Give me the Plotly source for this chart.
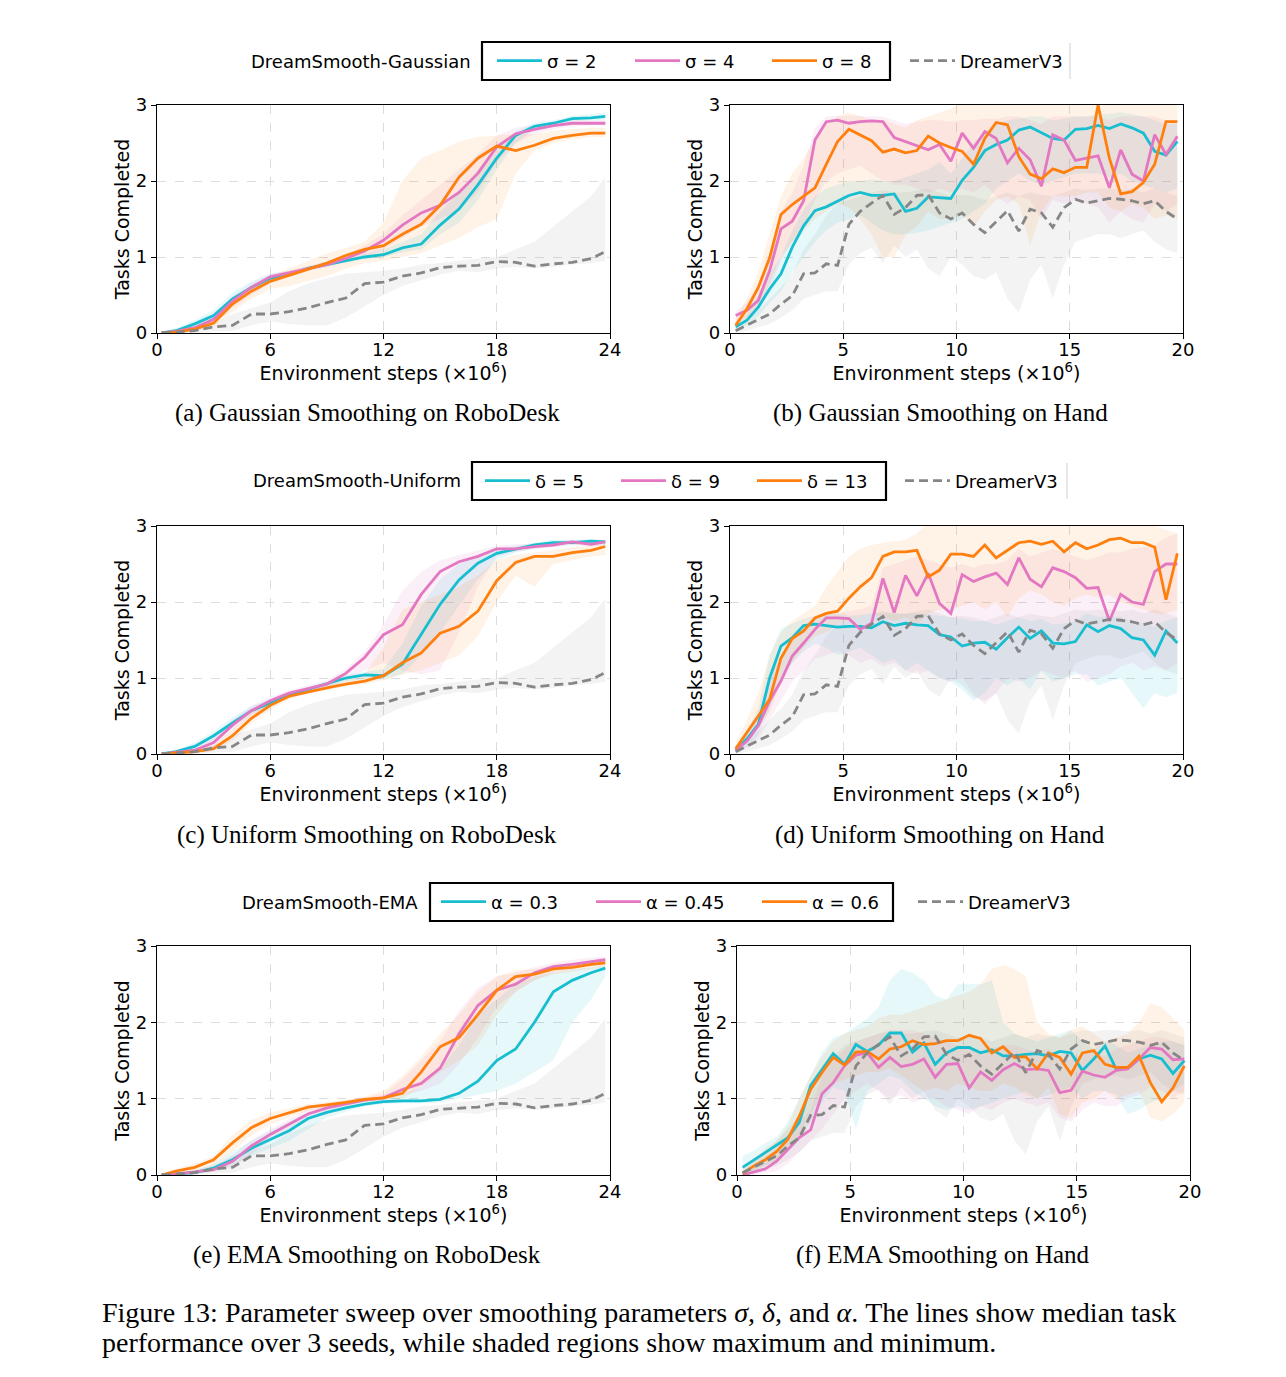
import plotly.graph_objects as go

W, H = 1286, 1377


def px(x):
    return x / W


def py(y):
    return 1 - y / H


# ---------------- data ----------------
rd_x = [0.25, 1, 2, 3, 4, 5, 6, 7, 8, 9, 10, 11, 12, 13, 14, 15, 16, 17, 18, 19, 20, 21, 22, 23, 23.75]
hd_x = [0.25, 0.75, 1.25, 1.75, 2.25, 2.75, 3.25, 3.75, 4.25, 4.75,
        5.25, 5.75, 6.25, 6.75, 7.25, 7.75, 8.25, 8.75, 9.25, 9.75,
        10.25, 10.75, 11.25, 11.75, 12.25, 12.75, 13.25, 13.75, 14.25, 14.75,
        15.25, 15.75, 16.25, 16.75, 17.25, 17.75, 18.25, 18.75, 19.25, 19.75]

# DreamerV3 baseline
dv3_rd_med = [0, 0.01, 0.03, 0.08, 0.1, 0.25, 0.25, 0.28, 0.33, 0.4, 0.46, 0.65, 0.67, 0.75, 0.79, 0.86, 0.88, 0.89, 0.94, 0.93, 0.88, 0.91, 0.93, 0.98, 1.07]
dv3_rd_lo = [0, 0, 0, 0.02, 0.03, 0.1, 0.15, 0.12, 0.1, 0.1, 0.2, 0.35, 0.5, 0.62, 0.7, 0.77, 0.82, 0.8, 0.85, 0.87, 0.85, 0.87, 0.9, 0.92, 0.95]
dv3_rd_hi = [0.01, 0.02, 0.05, 0.12, 0.25, 0.32, 0.4, 0.55, 0.65, 0.72, 0.78, 0.8, 0.82, 0.85, 0.9, 0.92, 0.95, 0.98, 1.0, 1.1, 1.2, 1.4, 1.6, 1.8, 2.05]

dv3_hd_med = [0.03, 0.1, 0.17, 0.25, 0.38, 0.49, 0.78, 0.79, 0.91, 0.89, 1.43, 1.6, 1.71, 1.81, 1.56, 1.65, 1.81, 1.82, 1.58, 1.5,
              1.58, 1.43, 1.32, 1.47, 1.61, 1.34, 1.63, 1.58, 1.39, 1.65, 1.76, 1.71, 1.74, 1.77, 1.76, 1.74, 1.7, 1.74, 1.6, 1.5]
dv3_hd_lo = [0.0, 0.03, 0.07, 0.12, 0.2, 0.3, 0.45, 0.5, 0.55, 0.55, 0.9, 1.05, 1.12, 0.92, 1.15, 1.0, 1.1, 0.85, 0.75, 1.0,
             0.9, 0.75, 0.7, 0.8, 0.45, 0.27, 0.7, 0.9, 0.45, 0.9, 1.2, 1.25, 1.3, 1.3, 1.25, 1.3, 1.35, 1.2, 1.1, 1.05]
dv3_hd_hi = [0.06, 0.18, 0.3, 0.45, 0.6, 0.78, 1.1, 1.3, 1.55, 1.7, 1.75, 1.8, 1.85, 1.88, 1.85, 1.85, 1.88, 1.9, 1.85, 1.8,
             1.82, 1.8, 1.75, 1.8, 1.85, 1.8, 1.85, 1.82, 1.8, 1.85, 1.9, 1.88, 1.9, 1.9, 1.88, 1.9, 1.85, 1.9, 1.85, 1.8]

# (a) Gaussian / RoboDesk
a_s2_med = [0, 0.03, 0.12, 0.23, 0.45, 0.6, 0.72, 0.77, 0.85, 0.9, 0.95, 1.0, 1.03, 1.12, 1.17, 1.42, 1.63, 1.95, 2.3, 2.6, 2.72, 2.76, 2.82, 2.83, 2.85]
a_s2_lo = [0, 0.01, 0.07, 0.17, 0.38, 0.55, 0.68, 0.74, 0.82, 0.88, 0.93, 0.97, 1.0, 1.06, 1.1, 1.3, 1.45, 1.75, 2.15, 2.5, 2.68, 2.72, 2.78, 2.8, 2.8]
a_s2_hi = [0.02, 0.06, 0.17, 0.3, 0.53, 0.68, 0.78, 0.82, 0.88, 0.93, 0.99, 1.04, 1.1, 1.2, 1.3, 1.6, 1.85, 2.15, 2.45, 2.65, 2.77, 2.8, 2.86, 2.88, 2.9]
a_s4_med = [0, 0.02, 0.07, 0.18, 0.42, 0.6, 0.74, 0.79, 0.85, 0.9, 0.98, 1.08, 1.22, 1.42, 1.58, 1.68, 1.85, 2.1, 2.45, 2.62, 2.68, 2.73, 2.76, 2.76, 2.76]
a_s4_lo = [0, 0.0, 0.04, 0.12, 0.33, 0.5, 0.66, 0.75, 0.82, 0.87, 0.93, 1.0, 1.1, 1.25, 1.4, 1.5, 1.62, 1.85, 2.25, 2.5, 2.62, 2.68, 2.72, 2.73, 2.73]
a_s4_hi = [0.01, 0.04, 0.1, 0.24, 0.48, 0.66, 0.78, 0.82, 0.88, 0.94, 1.03, 1.15, 1.3, 1.55, 1.75, 1.95, 2.15, 2.35, 2.6, 2.7, 2.74, 2.78, 2.8, 2.8, 2.8]
a_s8_med = [0, 0.01, 0.05, 0.13, 0.38, 0.55, 0.68, 0.76, 0.85, 0.92, 1.02, 1.1, 1.15, 1.3, 1.43, 1.68, 2.05, 2.3, 2.46, 2.4, 2.47, 2.56, 2.6, 2.63, 2.63]
a_s8_lo = [0, 0.0, 0.02, 0.08, 0.28, 0.45, 0.58, 0.62, 0.68, 0.75, 0.85, 0.92, 0.95, 1.0, 1.05, 1.15, 1.25, 1.39, 1.5, 2.1, 2.4, 2.5, 2.55, 2.58, 2.58]
a_s8_hi = [0.01, 0.03, 0.08, 0.2, 0.45, 0.62, 0.75, 0.85, 0.95, 1.05, 1.12, 1.2, 1.45, 2.0, 2.3, 2.4, 2.52, 2.58, 2.6, 2.62, 2.62, 2.66, 2.68, 2.7, 2.7]

# (b) Gaussian / Hand
b_s2_med = [0.08, 0.17, 0.34, 0.58, 0.78, 1.13, 1.41, 1.61, 1.66, 1.74, 1.81, 1.85, 1.81, 1.81, 1.83, 1.6, 1.64, 1.79, 1.78, 1.77,
            2.01, 2.18, 2.4, 2.48, 2.54, 2.67, 2.71, 2.64, 2.56, 2.54, 2.68, 2.69, 2.73, 2.69, 2.75, 2.7, 2.63, 2.39, 2.34, 2.52]
b_s2_lo = [0.03, 0.1, 0.22, 0.4, 0.55, 0.8, 1.0, 1.2, 1.35, 1.45, 1.5, 1.55, 1.45, 1.35, 1.3, 1.3, 1.32, 1.35, 1.4, 1.45,
           1.5, 1.6, 1.7, 1.9, 2.0, 2.1, 2.0, 1.95, 2.0, 2.05, 2.1, 2.1, 2.1, 2.05, 2.1, 2.0, 1.95, 1.9, 1.85, 1.9]
b_s2_hi = [0.12, 0.25, 0.5, 0.8, 1.0, 1.35, 1.62, 1.8, 1.9, 1.95, 2.0, 2.0, 2.02, 2.0, 2.0, 2.05, 2.1, 2.15, 2.25, 2.1,
           2.3, 2.5, 2.65, 2.75, 2.8, 2.82, 2.85, 2.85, 2.8, 2.82, 2.85, 2.85, 2.88, 2.88, 2.9, 2.88, 2.85, 2.8, 2.75, 2.75]
b_s4_med = [0.23, 0.3, 0.43, 0.82, 1.37, 1.47, 1.74, 2.54, 2.78, 2.8, 2.76, 2.78, 2.79, 2.78, 2.57, 2.52, 2.46, 2.41, 2.48, 2.26,
            2.63, 2.43, 2.65, 2.56, 2.24, 2.43, 2.28, 1.93, 2.61, 2.54, 2.27, 2.3, 2.33, 1.91, 2.41, 2.09, 2.0, 2.61, 2.35, 2.59]
b_s4_lo = [0.15, 0.2, 0.3, 0.55, 0.95, 1.2, 1.4, 1.75, 2.0, 2.1, 2.15, 2.2, 2.1, 2.0, 1.95, 1.95, 1.9, 1.85, 1.9, 1.85,
           1.9, 1.85, 1.95, 1.8, 1.7, 1.8, 1.75, 1.5, 1.75, 1.7, 1.75, 1.7, 1.65, 1.45, 1.6, 1.5, 1.45, 1.7, 1.6, 1.7]
b_s4_hi = [0.28, 0.4, 0.6, 1.05, 1.6, 1.85, 2.2, 2.7, 2.85, 2.86, 2.86, 2.86, 2.85, 2.85, 2.8, 2.75, 2.78, 2.8, 2.8, 2.78,
           2.8, 2.8, 2.82, 2.82, 2.85, 2.85, 2.8, 2.75, 2.85, 2.85, 2.85, 2.85, 2.85, 2.8, 2.85, 2.85, 2.85, 2.85, 2.8, 2.8]
b_s8_med = [0.1, 0.32, 0.6, 0.99, 1.56, 1.69, 1.8, 1.91, 2.22, 2.52, 2.68, 2.6, 2.53, 2.38, 2.42, 2.37, 2.4, 2.59, 2.5, 2.44,
            2.39, 2.22, 2.56, 2.77, 2.74, 2.32, 2.09, 2.03, 2.16, 2.11, 2.18, 2.18, 3.0, 2.3, 1.83, 1.86, 1.98, 2.22, 2.78, 2.78]
b_s8_lo = [0.05, 0.15, 0.35, 0.65, 1.0, 1.2, 1.35, 1.5, 1.6, 1.7, 1.65, 1.5, 1.3, 1.0, 1.0, 1.3, 1.4, 1.6, 1.5, 1.5,
           1.55, 1.4, 1.6, 1.75, 1.8, 1.7, 1.15, 1.6, 1.8, 1.8, 1.8, 1.85, 1.85, 1.65, 1.6, 1.7, 1.65, 1.5, 1.55, 1.5]
b_s8_hi = [0.2, 0.45, 0.8, 1.3, 1.8, 2.1, 2.3, 2.55, 2.75, 2.85, 2.9, 2.85, 2.8, 2.8, 2.75, 2.7, 2.8, 2.85, 2.9, 2.95,
           3.05, 3.1, 3.1, 3.1, 3.1, 3.1, 3.1, 3.1, 3.1, 3.1, 3.1, 3.1, 3.1, 3.1, 3.1, 3.1, 3.05, 3.0, 3.0, 3.0]

# (c) Uniform / RoboDesk
c_d5_med = [0, 0.03, 0.1, 0.24, 0.41, 0.57, 0.67, 0.78, 0.85, 0.92, 1.0, 1.04, 1.03, 1.18, 1.57, 1.97, 2.29, 2.51, 2.64, 2.7, 2.75, 2.78, 2.78, 2.8, 2.79]
c_d5_lo = [0, 0.01, 0.07, 0.18, 0.35, 0.52, 0.63, 0.74, 0.82, 0.88, 0.95, 0.98, 0.98, 1.05, 1.3, 1.6, 1.95, 2.3, 2.55, 2.65, 2.7, 2.74, 2.75, 2.76, 2.75]
c_d5_hi = [0.02, 0.05, 0.15, 0.3, 0.48, 0.63, 0.72, 0.81, 0.88, 0.95, 1.04, 1.08, 1.12, 1.45, 1.95, 2.3, 2.5, 2.62, 2.7, 2.74, 2.78, 2.82, 2.82, 2.83, 2.82]
c_d9_med = [0, 0.02, 0.05, 0.15, 0.38, 0.57, 0.7, 0.8, 0.86, 0.92, 1.06, 1.27, 1.57, 1.7, 2.1, 2.4, 2.53, 2.6, 2.7, 2.7, 2.73, 2.75, 2.79, 2.76, 2.79]
c_d9_lo = [0, 0, 0.03, 0.1, 0.3, 0.5, 0.65, 0.76, 0.83, 0.88, 0.97, 1.1, 1.2, 1.1, 1.05, 1.1, 1.6, 2.2, 2.6, 2.66, 2.7, 2.72, 2.75, 2.73, 2.75]
c_d9_hi = [0.01, 0.04, 0.08, 0.22, 0.45, 0.63, 0.75, 0.84, 0.9, 0.97, 1.12, 1.35, 1.7, 2.15, 2.4, 2.55, 2.62, 2.68, 2.74, 2.76, 2.77, 2.79, 2.82, 2.8, 2.82]
c_d13_med = [0, 0.01, 0.03, 0.07, 0.24, 0.47, 0.64, 0.76, 0.82, 0.87, 0.92, 0.96, 1.03, 1.2, 1.33, 1.59, 1.68, 1.88, 2.28, 2.52, 2.6, 2.6, 2.65, 2.68, 2.73]
c_d13_lo = [0, 0, 0.01, 0.04, 0.17, 0.4, 0.58, 0.72, 0.8, 0.84, 0.89, 0.92, 0.97, 1.05, 1.1, 1.2, 1.3, 1.55, 2.0, 2.35, 2.2, 2.5, 2.55, 2.6, 2.62]
c_d13_hi = [0.01, 0.02, 0.06, 0.12, 0.32, 0.55, 0.7, 0.8, 0.86, 0.9, 0.97, 1.05, 1.4, 1.9, 2.0, 2.1, 2.2, 2.35, 2.55, 2.62, 2.65, 2.68, 2.72, 2.74, 2.76]

# (d) Uniform / Hand
d_d5_med = [0.05, 0.2, 0.39, 1.0, 1.42, 1.53, 1.69, 1.71, 1.69, 1.67, 1.68, 1.68, 1.66, 1.74, 1.69, 1.72, 1.7, 1.69, 1.57, 1.54,
            1.42, 1.46, 1.47, 1.38, 1.53, 1.67, 1.52, 1.62, 1.46, 1.45, 1.48, 1.7, 1.61, 1.69, 1.65, 1.53, 1.5, 1.3, 1.62, 1.46]
d_d5_lo = [0.02, 0.1, 0.25, 0.6, 1.0, 1.2, 1.35, 1.45, 1.4, 1.3, 1.35, 1.4, 1.3, 1.2, 1.25, 1.1, 1.2, 1.1, 1.0, 0.95,
           0.85, 0.7, 0.8, 1.0, 0.9, 1.0, 0.85, 1.1, 0.95, 1.0, 1.05, 1.05, 0.9, 0.95, 1.0, 0.8, 0.6, 0.8, 0.75, 0.8]
d_d5_hi = [0.1, 0.3, 0.6, 1.3, 1.65, 1.72, 1.78, 1.82, 1.85, 1.85, 1.82, 1.83, 1.85, 1.85, 1.85, 1.85, 1.85, 1.84, 1.82, 1.8,
           1.78, 1.75, 1.75, 1.7, 1.75, 1.8, 1.75, 1.78, 1.7, 1.72, 1.75, 1.85, 1.8, 1.82, 1.8, 1.75, 1.72, 1.68, 1.75, 1.8]
d_d9_med = [0.05, 0.17, 0.37, 0.7, 0.96, 1.29, 1.46, 1.64, 1.79, 1.79, 1.78, 1.64, 1.72, 2.31, 1.86, 2.35, 2.08, 2.38, 1.98, 1.85,
            2.36, 2.27, 2.33, 2.38, 2.23, 2.58, 2.3, 2.2, 2.45, 2.4, 2.32, 2.18, 2.19, 1.75, 2.1, 2.0, 1.97, 2.4, 2.5, 2.5]
d_d9_lo = [0.02, 0.08, 0.2, 0.45, 0.7, 0.95, 1.1, 1.25, 1.3, 1.35, 1.3, 1.2, 1.25, 1.15, 1.2, 1.1, 1.05, 1.1, 1.0, 0.95,
           1.0, 0.8, 0.65, 0.8, 1.0, 0.95, 1.0, 1.1, 1.05, 1.0, 1.1, 0.95, 1.0, 1.05, 1.15, 1.2, 1.1, 1.15, 1.1, 1.2]
d_d9_hi = [0.1, 0.3, 0.55, 1.0, 1.3, 1.5, 1.68, 1.8, 1.85, 1.85, 1.88, 1.9, 1.95, 2.45, 2.5, 2.55, 2.6, 2.55, 2.5, 2.45,
           2.5, 2.45, 2.5, 2.5, 2.55, 2.7, 2.6, 2.65, 2.7, 2.65, 2.6, 2.55, 2.6, 2.65, 2.65, 2.7, 2.72, 2.75, 2.85, 2.9]
d_d13_med = [0.07, 0.28, 0.5, 0.72, 1.26, 1.52, 1.62, 1.79, 1.85, 1.88, 2.05, 2.2, 2.32, 2.6, 2.66, 2.66, 2.68, 2.33, 2.42, 2.63,
             2.63, 2.6, 2.75, 2.58, 2.68, 2.78, 2.8, 2.76, 2.8, 2.66, 2.78, 2.7, 2.75, 2.82, 2.84, 2.78, 2.78, 2.72, 2.03, 2.64]
d_d13_lo = [0.03, 0.15, 0.35, 0.55, 0.95, 1.2, 1.4, 1.55, 1.6, 1.7, 1.75, 1.8, 1.85, 1.8, 1.75, 1.8, 1.7, 1.85, 1.9, 1.9,
            1.95, 2.0, 1.9, 2.0, 1.8, 2.05, 2.15, 2.1, 2.0, 1.95, 2.05, 2.1, 2.05, 2.1, 2.0, 1.95, 1.9, 1.85, 1.85, 1.9]
d_d13_hi = [0.15, 0.45, 0.8, 1.3, 1.6, 1.75, 1.85, 1.95, 2.2, 2.4, 2.6, 2.7, 2.75, 2.78, 2.8, 2.82, 2.9, 3.05, 3.1, 3.1,
            3.1, 3.1, 3.1, 3.1, 3.1, 3.1, 3.1, 3.1, 3.1, 3.1, 3.1, 3.1, 3.1, 3.1, 3.1, 3.1, 3.05, 3.0, 2.95, 2.9]

# (e) EMA / RoboDesk
e_a3_med = [0, 0.01, 0.03, 0.09, 0.2, 0.35, 0.47, 0.58, 0.74, 0.82, 0.88, 0.93, 0.96, 0.97, 0.97, 0.99, 1.07, 1.23, 1.5, 1.65, 2.0, 2.4, 2.55, 2.65, 2.71]
e_a3_lo = [0, 0, 0.01, 0.05, 0.12, 0.25, 0.35, 0.45, 0.6, 0.75, 0.83, 0.9, 0.93, 0.94, 0.94, 0.95, 1.0, 1.05, 1.1, 1.2, 1.35, 1.5, 2.0, 2.3, 2.6]
e_a3_hi = [0.02, 0.03, 0.06, 0.14, 0.3, 0.45, 0.58, 0.7, 0.82, 0.88, 0.93, 0.97, 0.99, 1.05, 1.15, 1.4, 1.7, 2.1, 2.3, 2.5, 2.6, 2.65, 2.7, 2.72, 2.75]
e_a45_med = [0, 0.01, 0.04, 0.07, 0.18, 0.38, 0.53, 0.67, 0.8, 0.88, 0.93, 0.98, 1.01, 1.12, 1.2, 1.4, 1.85, 2.22, 2.42, 2.5, 2.65, 2.73, 2.76, 2.8, 2.82]
e_a45_lo = [0, 0, 0.02, 0.04, 0.1, 0.28, 0.45, 0.6, 0.72, 0.84, 0.9, 0.96, 0.98, 1.05, 1.1, 1.2, 1.45, 1.8, 2.2, 2.4, 2.55, 2.65, 2.7, 2.74, 2.76]
e_a45_hi = [0.01, 0.03, 0.07, 0.12, 0.26, 0.46, 0.6, 0.73, 0.86, 0.92, 0.97, 1.02, 1.06, 1.25, 1.5, 1.75, 2.15, 2.45, 2.6, 2.65, 2.72, 2.78, 2.82, 2.85, 2.86]
e_a6_med = [0, 0.05, 0.1, 0.2, 0.42, 0.62, 0.74, 0.82, 0.89, 0.92, 0.95, 0.99, 1.01, 1.07, 1.35, 1.68, 1.8, 2.1, 2.42, 2.6, 2.63, 2.7, 2.72, 2.76, 2.78]
e_a6_lo = [0, 0.02, 0.06, 0.12, 0.3, 0.52, 0.66, 0.76, 0.84, 0.89, 0.92, 0.96, 0.98, 1.0, 1.15, 1.35, 1.5, 1.7, 2.1, 2.4, 2.55, 2.63, 2.66, 2.7, 2.72]
e_a6_hi = [0.01, 0.08, 0.15, 0.25, 0.52, 0.72, 0.82, 0.88, 0.93, 0.96, 0.99, 1.03, 1.1, 1.3, 1.55, 1.85, 2.1, 2.4, 2.6, 2.68, 2.7, 2.75, 2.78, 2.8, 2.82]

# (f) EMA / Hand
f_a3_med = [0.1, 0.2, 0.3, 0.39, 0.49, 0.69, 1.17, 1.38, 1.59, 1.45, 1.71, 1.62, 1.7, 1.86, 1.86, 1.61, 1.73, 1.45, 1.6, 1.67,
            1.67, 1.6, 1.64, 1.56, 1.56, 1.58, 1.59, 1.56, 1.62, 1.6, 1.37, 1.52, 1.69, 1.38, 1.4, 1.52, 1.57, 1.52, 1.33, 1.5]
f_a3_lo = [0.0, 0.05, 0.12, 0.2, 0.3, 0.45, 0.7, 0.95, 1.15, 1.1, 0.6, 1.1, 1.2, 1.3, 1.25, 1.1, 1.0, 0.9, 0.85, 0.9,
           0.85, 0.9, 0.95, 1.0, 1.05, 1.1, 1.0, 1.05, 1.1, 1.15, 1.0, 1.1, 1.1, 1.05, 0.8, 0.85, 0.95, 1.0, 1.1, 1.2]
f_a3_hi = [0.25, 0.32, 0.42, 0.5, 0.7, 1.0, 1.3, 1.6, 1.8, 1.85, 1.95, 2.05, 2.2, 2.55, 2.7, 2.65, 2.55, 2.35, 2.3, 2.5,
           2.5, 2.5, 2.55, 2.0, 1.85, 1.8, 1.75, 1.8, 1.85, 1.9, 1.75, 1.65, 1.75, 1.7, 1.6, 1.65, 1.7, 1.75, 1.75, 1.7]
f_a45_med = [0.0, 0.04, 0.08, 0.18, 0.33, 0.49, 0.59, 1.06, 1.21, 1.43, 1.57, 1.6, 1.41, 1.54, 1.42, 1.45, 1.52, 1.28, 1.45, 1.46,
             1.14, 1.35, 1.24, 1.38, 1.46, 1.38, 1.39, 1.37, 1.08, 1.11, 1.36, 1.31, 1.28, 1.37, 1.39, 1.52, 1.67, 1.65, 1.51, 1.52]
f_a45_lo = [0.0, 0.0, 0.02, 0.05, 0.15, 0.3, 0.45, 0.6, 0.8, 1.0, 1.1, 1.2, 1.1, 1.0, 1.05, 0.95, 1.0, 1.0, 0.9, 0.85,
            0.8, 0.9, 0.85, 0.95, 1.0, 0.95, 0.9, 0.95, 0.75, 0.7, 0.85, 0.95, 0.9, 0.9, 1.0, 1.05, 1.15, 1.1, 1.0, 1.1]
f_a45_hi = [0.05, 0.1, 0.18, 0.3, 0.5, 0.7, 0.85, 1.3, 1.5, 1.65, 1.75, 1.8, 1.85, 1.9, 1.9, 1.9, 1.85, 1.8, 1.75, 1.7,
            1.65, 1.6, 1.65, 1.7, 1.7, 1.65, 1.6, 1.65, 1.55, 1.5, 1.6, 1.6, 1.55, 1.65, 1.7, 1.75, 1.8, 1.8, 1.75, 1.7]
f_a6_med = [0.02, 0.12, 0.2, 0.31, 0.47, 0.77, 1.12, 1.34, 1.54, 1.44, 1.61, 1.62, 1.52, 1.65, 1.68, 1.76, 1.71, 1.72, 1.76, 1.76,
            1.83, 1.79, 1.6, 1.68, 1.54, 1.55, 1.39, 1.6, 1.54, 1.32, 1.6, 1.63, 1.45, 1.41, 1.41, 1.56, 1.21, 0.96, 1.14, 1.43]
f_a6_lo = [0.0, 0.05, 0.12, 0.2, 0.32, 0.5, 0.8, 1.05, 1.2, 1.25, 1.3, 1.35, 1.35, 1.4, 1.3, 1.2, 1.1, 1.15, 1.1, 1.2,
           1.15, 1.1, 1.1, 1.2, 1.15, 1.05, 1.0, 1.15, 0.8, 0.75, 0.95, 1.0, 1.1, 1.0, 1.05, 1.1, 0.75, 0.7, 0.8, 0.95]
f_a6_hi = [0.06, 0.2, 0.35, 0.45, 0.65, 1.0, 1.3, 1.55, 1.75, 1.85, 1.9, 1.95, 2.05, 2.1, 2.1, 2.15, 2.2, 2.25, 2.3, 2.35,
           2.4, 2.5, 2.7, 2.75, 2.7, 2.6, 2.0, 1.85, 1.8, 1.9, 1.95, 1.85, 1.75, 1.8, 1.85, 2.0, 2.25, 2.2, 2.05, 1.9]

rd_ticks = [0, 6, 12, 18, 24]
hd_ticks = [0, 5, 10, 15, 20]
y_ticks = [0, 1, 2, 3]

row_titles = ["DreamSmooth-Gaussian", "DreamSmooth-Uniform", "DreamSmooth-EMA"]
row_labels = [["σ = 2", "σ = 4", "σ = 8"], ["δ = 5", "δ = 9", "δ = 13"], ["α = 0.3", "α = 0.45", "α = 0.6"]]
captions = ["(a) Gaussian Smoothing on RoboDesk", "(b) Gaussian Smoothing on Hand",
            "(c) Uniform Smoothing on RoboDesk", "(d) Uniform Smoothing on Hand",
            "(e) EMA Smoothing on RoboDesk", "(f) EMA Smoothing on Hand"]

# ---------------- styling ----------------
COLORS = ["#17becf", "#e377c2", "#ff7f0e"]
FILLS = ["rgba(23,190,207,0.11)", "rgba(227,119,194,0.11)", "rgba(255,127,14,0.10)"]
GRAY = "#868686"
GRAY_FILL = "rgba(127,127,127,0.09)"
SANS = "DejaVu Sans"
SERIF = "Liberation Serif"

# panel frames in pixels: left, right, top, bottom
frames = [(157, 610, 105, 333), (730, 1183, 105, 333),
          (157, 610, 526, 754), (730, 1183, 526, 754),
          (157, 610, 946, 1175), (737, 1190, 946, 1175)]
caption_pos = [(367, 413), (940, 413), (367, 835), (940, 835), (367, 1255), (943, 1255)]

panels = [
    (rd_x, [(a_s2_med, a_s2_lo, a_s2_hi), (a_s4_med, a_s4_lo, a_s4_hi), (a_s8_med, a_s8_lo, a_s8_hi)], "rd"),
    (hd_x, [(b_s2_med, b_s2_lo, b_s2_hi), (b_s4_med, b_s4_lo, b_s4_hi), (b_s8_med, b_s8_lo, b_s8_hi)], "hd"),
    (rd_x, [(c_d5_med, c_d5_lo, c_d5_hi), (c_d9_med, c_d9_lo, c_d9_hi), (c_d13_med, c_d13_lo, c_d13_hi)], "rd"),
    (hd_x, [(d_d5_med, d_d5_lo, d_d5_hi), (d_d9_med, d_d9_lo, d_d9_hi), (d_d13_med, d_d13_lo, d_d13_hi)], "hd"),
    (rd_x, [(e_a3_med, e_a3_lo, e_a3_hi), (e_a45_med, e_a45_lo, e_a45_hi), (e_a6_med, e_a6_lo, e_a6_hi)], "rd"),
    (hd_x, [(f_a3_med, f_a3_lo, f_a3_hi), (f_a45_med, f_a45_lo, f_a45_hi), (f_a6_med, f_a6_lo, f_a6_hi)], "hd"),
]

legend_names = ["legend", "legend2", "legend3"]
legend_widths = [[78, 77, 78, 110], [76, 76, 88, 110], [95, 106, 96, 110]]

fig = go.Figure()


def band(x, lo, hi, med, fill, xa, ya):
    lo2 = [min(l, m) for l, m in zip(lo, med)]
    hi2 = [max(h, m) for h, m in zip(hi, med)]
    fig.add_trace(go.Scatter(
        x=list(x) + list(x)[::-1], y=hi2 + lo2[::-1], fill="toself", fillcolor=fill,
        line=dict(width=0), mode="lines", hoverinfo="skip", showlegend=False,
        xaxis=xa, yaxis=ya))


for i, (xs, series, kind) in enumerate(panels):
    n = i + 1
    xa = "x" if n == 1 else "x%d" % n
    ya = "y" if n == 1 else "y%d" % n
    row = i // 2
    first = (i % 2 == 0)
    if kind == "rd":
        dmed, dlo, dhi = dv3_rd_med, dv3_rd_lo, dv3_rd_hi
    else:
        dmed, dlo, dhi = dv3_hd_med, dv3_hd_lo, dv3_hd_hi
    band(xs, dlo, dhi, dmed, GRAY_FILL, xa, ya)
    for k, (m, lo, hi) in enumerate(series):
        band(xs, lo, hi, m, FILLS[k], xa, ya)
    for k, (m, lo, hi) in enumerate(series):
        fig.add_trace(go.Scatter(
            x=xs, y=m, mode="lines", line=dict(color=COLORS[k], width=2.8),
            name=row_labels[row][k], showlegend=first, legend=legend_names[row],
            legendwidth=legend_widths[row][k], xaxis=xa, yaxis=ya))
    fig.add_trace(go.Scatter(
        x=xs, y=dmed, mode="lines", line=dict(color=GRAY, width=2.8, dash="9px,5px"),
        name="DreamerV3", showlegend=first, legend=legend_names[row],
        legendwidth=legend_widths[row][3], xaxis=xa, yaxis=ya))

layout = dict(
    width=W, height=H, margin=dict(l=0, r=0, t=0, b=0),
    paper_bgcolor="white", plot_bgcolor="white",
    font=dict(family=SANS, size=18, color="black"),
    showlegend=True,
)

for i, (xs, series, kind) in enumerate(panels):
    n = i + 1
    l, r, t, b = frames[i]
    xkey = "xaxis" if n == 1 else "xaxis%d" % n
    ykey = "yaxis" if n == 1 else "yaxis%d" % n
    yref = "y" if n == 1 else "y%d" % n
    xref = "x" if n == 1 else "x%d" % n
    ticks = rd_ticks if kind == "rd" else hd_ticks
    common = dict(showline=True, linecolor="black", linewidth=1.2, mirror=True,
                  ticks="outside", ticklen=5, tickwidth=1.1, tickcolor="black",
                  showgrid=True, gridcolor="#dcdcdc", griddash="dash", gridwidth=1,
                  zeroline=False, tickfont=dict(family=SANS, size=18, color="black"),
                  automargin=False, fixedrange=True)
    layout[xkey] = dict(common, domain=[px(l), px(r)], range=[0, ticks[-1]], tickvals=ticks,
                        anchor=yref, ticklabelstandoff=-5,
                        title=dict(text="Environment steps (×10<sup>6</sup>)",
                                   font=dict(family=SANS, size=19), standoff=3))
    layout[ykey] = dict(common, domain=[py(b), py(t)], range=[0, 3], tickvals=y_ticks,
                        anchor=xref,
                        title=dict(text="Tasks Completed", font=dict(family=SANS, size=19), standoff=1))

legend_rows = [(492, 61), (480, 481), (436, 902)]
for j, (lx, ly) in enumerate(legend_rows):
    layout[legend_names[j]] = dict(
        orientation="h", x=px(lx), xanchor="left", y=py(ly), yanchor="middle",
        font=dict(family=SANS, size=18, color="black"), bgcolor="rgba(0,0,0,0)",
        borderwidth=0, itemwidth=45, traceorder="normal", itemclick=False, itemdoubleclick=False)

fig.update_layout(**layout)

title_pos = [(473, 61), (463, 481), (420, 902)]
boxes = [(482, 890, 42, 80), (472, 886, 462, 500), (430, 893, 883, 921)]
shapes = []
annotations = []
for j in range(3):
    tx, ty = title_pos[j]
    annotations.append(dict(text=row_titles[j], x=px(tx), y=py(ty), xref="paper", yref="paper",
                            xanchor="right", yanchor="middle", showarrow=False,
                            font=dict(family=SANS, size=18, color="black")))
    bl, br, bt, bb = boxes[j]
    shapes.append(dict(type="rect", xref="paper", yref="paper", x0=px(bl), x1=px(br),
                       y0=py(bb), y1=py(bt), line=dict(color="black", width=2.2), layer="above"))

# faint separators after the baseline entry
for sx, st, sb in [(1070, 43, 79), (1067, 463, 499)]:
    shapes.append(dict(type="line", xref="paper", yref="paper", x0=px(sx), x1=px(sx),
                       y0=py(sb), y1=py(st), line=dict(color="#d0d0d0", width=1)))

for (cx, cy), txt in zip(caption_pos, captions):
    annotations.append(dict(text=txt, x=px(cx), y=py(cy), xref="paper", yref="paper",
                            xanchor="center", yanchor="middle", showarrow=False,
                            font=dict(family=SERIF, size=25, color="black")))

annotations.append(dict(
    text="Figure 13: Parameter sweep over smoothing parameters <i>σ</i>, <i>δ</i>, and <i>α</i>. The lines show median task",
    x=px(100), y=py(1312), xref="paper", yref="paper", xanchor="left", yanchor="middle",
    showarrow=False, font=dict(family=SERIF, size=28, color="black")))
annotations.append(dict(
    text="performance over 3 seeds, while shaded regions show maximum and minimum.",
    x=px(100), y=py(1342), xref="paper", yref="paper", xanchor="left", yanchor="middle",
    showarrow=False, font=dict(family=SERIF, size=28, color="black")))

fig.update_layout(shapes=shapes, annotations=annotations)

fig.write_html("out.html", config={"displayModeBar": False},
               post_script="document.body.style.margin='0';document.body.style.overflow='hidden';")
